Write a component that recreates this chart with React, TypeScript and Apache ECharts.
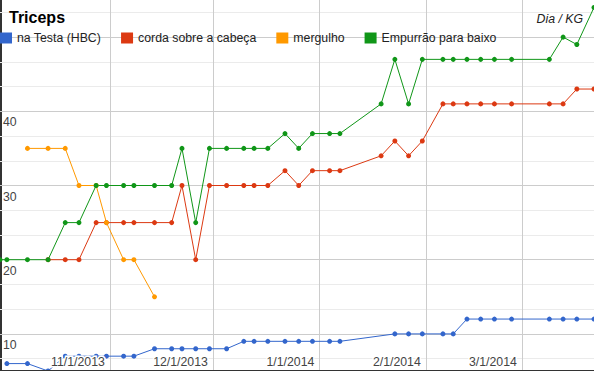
import React, { useEffect, useRef } from "react";
import * as echarts from "echarts";

// shared measurement dates (YYYY-MM-DD)
const dates = [
  "2013-09-30", "2013-10-02", "2013-10-08", "2013-10-14", "2013-10-19", "2013-10-23",
  "2013-10-28", "2013-10-31", "2013-11-05", "2013-11-08", "2013-11-14", "2013-11-19",
  "2013-11-22", "2013-11-26", "2013-11-30", "2013-12-05", "2013-12-10", "2013-12-13",
  "2013-12-17", "2013-12-22", "2013-12-26", "2013-12-30", "2014-01-04", "2014-01-07",
  "2014-01-19", "2014-01-23", "2014-01-27", "2014-01-31", "2014-02-06", "2014-02-09",
  "2014-02-13", "2014-02-17", "2014-02-21", "2014-02-26", "2014-03-09", "2014-03-13",
  "2014-03-17", "2014-03-22",
];

const naTesta = [
  null, 6, 6, 5, 7, 7, 7, 7, 7, 7, 8, 8, 8, 8, 8, 8, 9, 9, 9, 9, 9, 9, 9, 9,
  null, 10, 10, 10, 10, 10, 12, 12, 12, 12, 12, 12, 12, 12,
];
const corda = [
  null, null, null, 20, 20, 20, 25, 25, 25, 25, 25, 25, 30, 20, 30, 30, 30, 30, 30, 32, 30, 32, 32, 32,
  34, 36, 34, 36, 41, 41, 41, 41, 41, 41, 41, 41, 43, 43,
];
const mergulho = [
  null, null, 35, 35, 35, 30, 30, 25, 20, 20, 15, null, null, null, null, null, null, null, null, null,
  null, null, null, null, null, null, null, null, null, null, null, null, null, null, null, null, null, null,
];
const empurrao = [
  20, 20, 20, 20, 25, 25, 30, 30, 30, 30, 30, 30, 35, 25, 35, 35, 35, 35, 35, 37, 35, 37, 37, 37,
  41, 47, 41, 47, 47, 47, 47, 47, 47, 47, 47, 50, 49, 54,
];

const seriesNames = ["na Testa (HBC)", "corda sobre a cabeça", "mergulho", "Empurrão para baixo"];
const seriesColors = ["#3366cc", "#dc3912", "#ff9900", "#109618"];

const xMin = "2013-09-30";
const xMax = "2014-03-22";
const monthTicks = ["2013-11-01", "2013-12-01", "2014-01-01", "2014-02-01", "2014-03-01"];
const monthLabels = ["11/1/2013", "12/1/2013", "1/1/2014", "2/1/2014", "3/1/2014"];

const yMin = 5;
const yMax = 55;
const yMajor = [10, 20, 30, 40, 50];
const yMajorLabels = ["10", "20", "30", "40", ""];

const toTs = (s: string) => {
  const [y, m, d] = s.split("-").map(Number);
  return new Date(y, m - 1, d).getTime();
};

const FONT = "'Liberation Sans', Arial, sans-serif";

export default function App() {
  const ref = useRef<HTMLDivElement>(null);
  useEffect(() => {
    if (!ref.current) return;
    const chart = echarts.init(ref.current, undefined, { renderer: "svg" });
    const ts = dates.map(toTs);
    const tickTs = monthTicks.map(toTs);
    const mk = (vals: (number | null)[]) => vals.map((v, i) => [ts[i], v]);

    const hLines: any[] = [];
    yMajor.forEach((v, i) => {
      hLines.push({
        yAxis: v,
        lineStyle: { color: "#cccccc", width: 1, type: "solid" },
        label: {
          show: yMajorLabels[i] !== "",
          position: "insideStartBottom",
          formatter: yMajorLabels[i],
          distance: [3, 5],
          color: "#444",
          fontSize: 12.3,
          fontFamily: FONT,
        },
      });
    });
    const minorVals: number[] = [];
    [0, ...yMajor].forEach((v) => {
      minorVals.push(v + 10 / 3, v + 20 / 3);
    });
    minorVals
      .filter((v) => v > yMin && v < yMax)
      .forEach((v) => {
        hLines.push({
          yAxis: v,
          lineStyle: { color: "#ebebeb", width: 1, type: "solid" },
          label: { show: false },
        });
      });
    const vLines = tickTs.map((t) => ({
      xAxis: t,
      lineStyle: { color: "#cccccc", width: 1, type: "solid" },
      label: { show: false },
    }));

    const vals = [naTesta, corda, mergulho, empurrao];
    const series: any[] = vals.map((v, i) => ({
      name: seriesNames[i],
      type: "line",
      data: mk(v),
      connectNulls: true,
      symbol: "circle",
      symbolSize: 5,
      showSymbol: true,
      color: seriesColors[i],
      lineStyle: { width: 1, color: seriesColors[i] },
      itemStyle: { color: seriesColors[i] },
      emphasis: { disabled: true },
      z: 2,
    }));
    series[0].markLine = {
      silent: true,
      symbol: ["none", "none"],
      animation: false,
      z: 1,
      data: [...hLines, ...vLines],
    };

    chart.setOption({
      animation: false,
      backgroundColor: "#ffffff",
      textStyle: { fontFamily: FONT },
      title: [
        {
          text: "Triceps",
          left: 9,
          top: 9,
          padding: 0,
          textStyle: { fontSize: 16, fontWeight: "bold", color: "#000", fontFamily: FONT },
        },
        {
          text: "Dia / KG",
          right: 11,
          top: 13,
          padding: 0,
          textStyle: {
            fontSize: 12.3,
            fontWeight: "normal",
            fontStyle: "italic",
            color: "#222",
            fontFamily: FONT,
          },
        },
      ],
      legend: {
        data: seriesNames,
        left: 0,
        top: 32,
        padding: 0,
        itemGap: 20,
        itemWidth: 12,
        itemHeight: 11,
        icon: "rect",
        selectedMode: false,
        textStyle: { fontSize: 12.3, color: "#222", fontFamily: FONT },
      },
      grid: { left: 0, right: 0, top: 0, bottom: 0, containLabel: false },
      xAxis: {
        type: "time",
        min: toTs(xMin),
        max: toTs(xMax),
        z: 10,
        splitLine: { show: false },
        axisTick: { show: false },
        axisLine: { show: true, lineStyle: { color: "#333", width: 3 } },
        axisLabel: {
          inside: true,
          interval: 0,
          margin: 3,
          align: "right",
          padding: [0, 5, 0, 0],
          color: "#444",
          fontSize: 12.3,
          fontFamily: FONT,
          textBorderColor: "#fff",
          textBorderWidth: 3,
          formatter: (value: number) => {
            const idx = tickTs.indexOf(value);
            return idx >= 0 ? monthLabels[idx] : "";
          },
        },
      },
      yAxis: {
        type: "value",
        min: yMin,
        max: yMax,
        splitLine: { show: false },
        axisTick: { show: false },
        axisLabel: { show: false },
        axisLine: { show: true, lineStyle: { color: "#333", width: 3 } },
      },
      series,
    });
    return () => chart.dispose();
  }, []);
  return (
    <div
      ref={ref}
      style={{ position: "fixed", left: 0, top: 0, width: 594, height: 371, background: "#fff" }}
    />
  );
}
